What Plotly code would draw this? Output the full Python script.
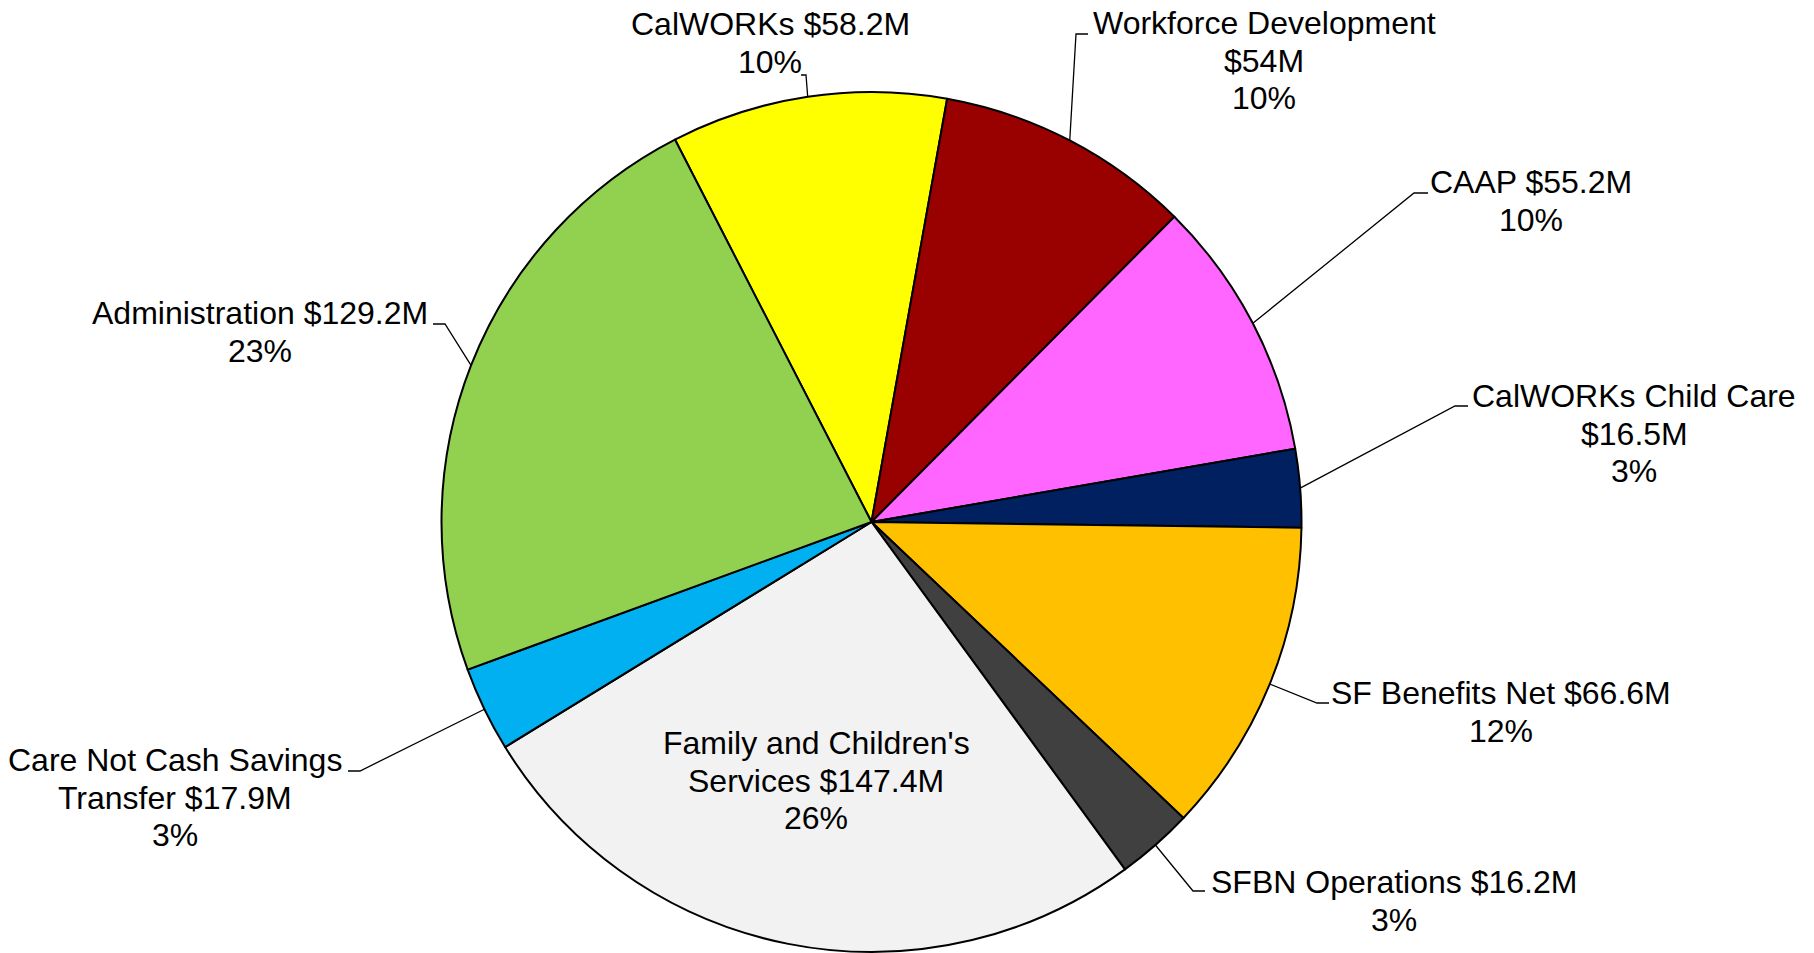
import math
import plotly.graph_objects as go

# Budget slices, clockwise from the CalWORKs slice
LABELS = [
    "CalWORKs",
    "Workforce Development",
    "CAAP",
    "CalWORKs Child Care",
    "SF Benefits Net",
    "SFBN Operations",
    "Family and Children's Services",
    "Care Not Cash Savings Transfer",
    "Administration",
]
VALUES_M = [58.2, 54, 55.2, 16.5, 66.6, 16.2, 147.4, 17.9, 129.2]

COLOURS = [
    "#FFFF00",  # yellow
    "#990000",  # dark red
    "#FF66FF",  # pink
    "#002060",  # navy
    "#FFC000",  # orange
    "#404040",  # dark grey
    "#F2F2F2",  # light grey
    "#00B0F0",  # light blue
    "#92D050",  # green
]

# figure / pie geometry (pixels, as measured on the page)
W, H = 1814, 953
OFF = 8  # body margin of the html page
CX, CY, R = 871.5, 522.0, 430.0
ROTATION = 332.8
FONT = "Arial, Liberation Sans, sans-serif"
FONT_SIZE = 32
LINE_GAP = 37.5

# label placement: text centre x, first line y, words on first line,
# leader elbow point, end of the short horizontal tick
LABEL_LAYOUT = [
    dict(cx=770, y0=24, split=None, elbow=(806, 75), tick=(801, 75)),
    dict(cx=1264, y0=23, split=2, elbow=(1076, 34), tick=(1088, 34)),
    dict(cx=1531, y0=182, split=None, elbow=(1414, 193), tick=(1428, 193)),
    dict(cx=1634, y0=396, split=3, elbow=(1455, 406), tick=(1468, 406)),
    dict(cx=1501, y0=693, split=None, elbow=(1317, 703), tick=(1329, 703)),
    dict(cx=1394, y0=882, split=None, elbow=(1193, 891), tick=(1205, 891)),
    dict(cx=816, y0=743, split=3, elbow=None, tick=None),
    dict(cx=175, y0=760, split=4, elbow=(360, 771), tick=(348, 771)),
    dict(cx=260, y0=313, split=None, elbow=(445, 324), tick=(433, 324)),
]

total = sum(VALUES_M)

fig = go.Figure()

fig.add_trace(
    go.Pie(
        labels=LABELS,
        values=VALUES_M,
        sort=False,
        direction="clockwise",
        rotation=ROTATION,
        marker=dict(colors=COLOURS, line=dict(color="#000000", width=2)),
        textinfo="none",
        hoverinfo="label+value+percent",
        showlegend=False,
        domain=dict(
            x=[(CX - OFF - R) / W, (CX - OFF + R) / W],
            y=[(H - (CY - OFF) - R) / H, (H - (CY - OFF) + R) / H],
        ),
    )
)

# leader lines from slice mid-angle on the rim to the label elbow
lx, ly = [], []
annotations = []
start = ROTATION
for name, val, lay in zip(LABELS, VALUES_M, LABEL_LAYOUT):
    span = val / total * 360
    mid = math.radians(start + span / 2)
    start += span

    if lay["elbow"] is not None:
        ex = CX + R * math.sin(mid)
        ey = CY - R * math.cos(mid)
        lx += [ex, lay["elbow"][0], lay["tick"][0], None]
        ly += [ey, lay["elbow"][1], lay["tick"][1], None]

    words = f"{name} ${val:g}M".split(" ")
    if lay["split"]:
        lines = [" ".join(words[: lay["split"]]), " ".join(words[lay["split"]:])]
    else:
        lines = [" ".join(words)]
    lines.append(f"{round(val / total * 100)}%")

    for i, txt in enumerate(lines):
        annotations.append(
            dict(
                x=lay["cx"],
                y=lay["y0"] + i * LINE_GAP,
                xref="x",
                yref="y",
                text=txt,
                showarrow=False,
                xanchor="center",
                yanchor="middle",
                font=dict(family=FONT, size=FONT_SIZE, color="#000000"),
            )
        )

fig.add_trace(
    go.Scatter(
        x=lx,
        y=ly,
        mode="lines",
        line=dict(color="#000000", width=1.3),
        hoverinfo="skip",
        showlegend=False,
    )
)

# cartesian axes span the page in measured pixels
fig.update_xaxes(range=[OFF, W + OFF], visible=False, fixedrange=True)
fig.update_yaxes(range=[H + OFF, OFF], visible=False, fixedrange=True)
fig.update_layout(
    width=W,
    height=H,
    margin=dict(l=0, r=0, t=0, b=0),
    plot_bgcolor="#FFFFFF",
    paper_bgcolor="#FFFFFF",
    annotations=annotations,
)

fig.write_html("out.html")
